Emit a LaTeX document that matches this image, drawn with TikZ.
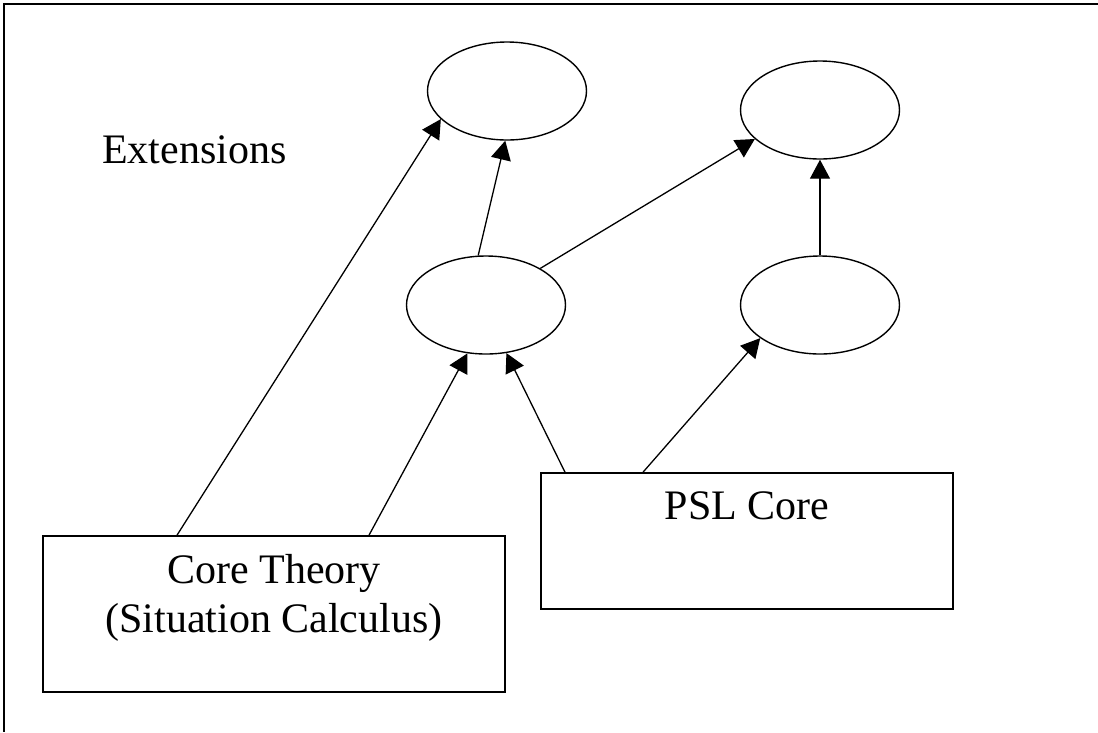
\documentclass[tikz,border=0pt]{standalone}
\usepackage{fontspec}
\setmainfont{Liberation Serif}
\usetikzlibrary{shapes.geometric,arrows.meta}
\begin{document}
\begin{tikzpicture}[x=1pt,y=-1pt,
  ell/.style={draw,line width=1.4pt,ellipse,minimum width=159pt,minimum height=98pt,inner sep=0pt},
  box/.style={draw,line width=1.6pt,rectangle,inner sep=0pt},
  lbl/.style={inner sep=0pt,font=\fontsize{42}{48}\selectfont},
  conn/.style={line width=1.3pt,-{Triangle[length=19pt,width=20pt]},shorten >=0pt}
]
\useasboundingbox (0,0) rectangle (1098,732);
% frame (top and left edges)
\coordinate (frTL) at (4,4);
\coordinate (frTR) at (1098,4);
\coordinate (frBL) at (4,732);
\draw[line width=1.8pt] (frTR) -- (frTL) -- (frBL);

% ellipses
\node[ell] (A) at (507,91) {};
\node[ell] (C) at (820,110) {};
\node[ell] (B) at (486,305) {};
\node[ell] (D) at (820,305) {};

% boxes
\node[box,minimum width=462pt,minimum height=156pt] (core) at (274,614) {};
\node[box,minimum width=412pt,minimum height=136pt] (psl) at (747,541) {};

% texts
\node[lbl,anchor=base west] (ext) at (102,163) {Extensions};
\node[lbl,anchor=base] (coreA) at (274,583) {Core Theory};
\node[lbl,anchor=base] (coreB) at (274,632) {(Situation Calculus)};
\node[lbl,anchor=base] (pslA) at (747,519) {PSL Core};

% connectors
\draw[conn] ([xshift=-97pt]core.north) -- (A.203);
\draw[conn] ([xshift=95pt]core.north) -- (B.249);
\draw[conn] ([xshift=-182pt]psl.north) -- (B.293);
\draw[conn] ([xshift=-104pt]psl.north) -- (D.209);
\draw[conn] (B.99) -- (A.268);
\draw[conn] (B.34) -- (C.204);
\draw[conn] (D.north) -- (C.south);
\end{tikzpicture}
\end{document}
